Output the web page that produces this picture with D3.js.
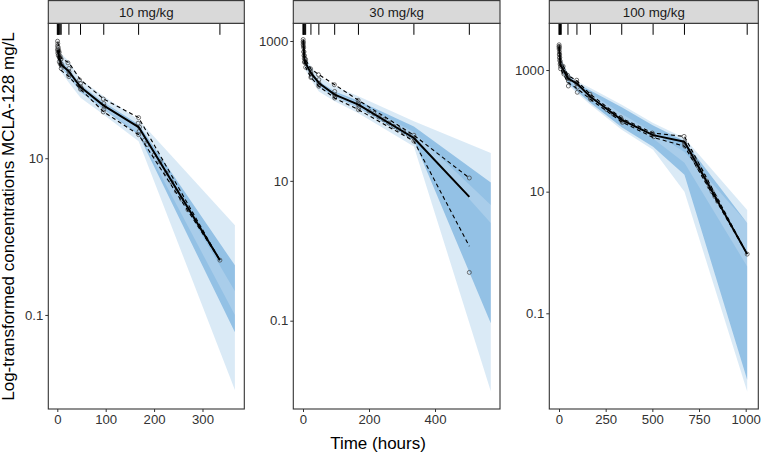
<!DOCTYPE html>
<html><head><meta charset="utf-8">
<script src="https://cdn.jsdelivr.net/npm/d3@7"></script>
<style>
body{margin:0;background:#fff}
svg{display:block}
text{font-family:"Liberation Sans",Arial,Helvetica,sans-serif}
</style>
</head><body>
<svg id="c" width="761" height="454"></svg>
<script>
// ---------------- DATA ----------------
const panelLabels = ["10 mg/kg", "30 mg/kg", "100 mg/kg"];
const xTicks1 = [0, 100, 200, 300];
const xTicks2 = [0, 200, 400];
const xTicks3 = [0, 250, 500, 750, 1000];
const yTicks1 = [0.1, 10];
const yTicks2 = [0.1, 10, 1000];
const yTicks3 = [0.1, 10, 1000];

// bin separators (rug)
const rug1 = [0, 1, 2, 3, 4, 6, 8, 24, 48, 96, 168, 336];
const rug2 = [0, 1, 2, 4, 6, 8, 24, 48, 96, 168, 336, 504];
const rug3 = [0, 2, 4, 8, 12, 48, 96, 168, 336, 504, 672, 1008];

// simulated CI bands: panel 1
const simT1  = [0.5, 3, 8, 24, 48, 96, 168, 367];
const p95Hi1 = [330, 270, 215, 173, 101, 62, 31, 1.4];
const p95Lo1 = [265, 215, 175, 140, 88, 52, 25, 0.2];
const medHi1 = [265, 220, 180, 140, 88, 52, 27, 0.43];
const medLo1 = [215, 175, 145, 110, 70, 42, 20, 0.06];
const p5Hi1  = [220, 180, 150, 112, 72, 43, 21, 0.1];
const p5Lo1  = [180, 150, 125, 92, 59, 36, 16.5, 0.011];
// panel 2
const simT2  = [0.5, 4, 8, 24, 48, 96, 168, 336, 569];
const p95Hi2 = [1100, 750, 600, 435, 313, 225, 162, 71, 25];
const p95Lo2 = [880, 610, 500, 370, 260, 185, 130, 50, 4.5];
const medHi2 = [920, 640, 520, 380, 265, 190, 140, 60, 9.5];
const medLo2 = [760, 530, 440, 320, 220, 158, 110, 38, 0.092];
const p5Hi2  = [780, 540, 450, 330, 225, 160, 112, 42, 2.5];
const p5Lo2  = [637, 450, 380, 280, 190, 137, 93, 31, 0.0098];
// panel 3
const simT3  = [0.5, 4, 10, 48, 96, 168, 336, 504, 672, 1008];
const p95Hi3 = [2600, 2000, 1600, 890, 652, 506, 268, 134, 76, 5.0];
const p95Lo3 = [2250, 1700, 1350, 760, 560, 420, 190, 95, 45, 3.05];
const medHi3 = [2350, 1800, 1450, 820, 600, 460, 245, 122, 68, 3.05];
const medLo3 = [2000, 1400, 1100, 620, 450, 290, 115, 55, 19, 0.0081];
const p5Hi3  = [2100, 1500, 1200, 670, 490, 330, 150, 75, 30, 0.59];
const p5Lo3  = [1900, 1300, 1000, 573, 419, 268, 104, 49, 10, 0.0052];

// observed percentiles
const obsT1    = [1, 4, 8, 24, 48, 96, 168, 336];
const obsMed1  = [240, 195, 157, 128, 81, 47, 25, 0.5];
const obsP95_1 = [305, 240, 190, 165, 100, 57, 33, 0.5];
const obsP5_1  = [200, 165, 132, 110, 76, 39, 20, 0.5];

const obsT2    = [1, 4, 8, 24, 48, 96, 168, 336, 504];
const obsMed2  = [1000, 560, 480, 349, 251, 171, 123, 41, 5.9];
const obsP95_2 = [1050, 650, 540, 400, 330, 237, 142, 45, 11];
const obsP5_2  = [850, 500, 420, 300, 225, 153, 104, 37, 1.16];

const obsT3    = [1, 4, 8, 24, 48, 96, 168, 336, 504, 672, 1008];
const obsMed3  = [2400, 1700, 1200, 1000, 730, 600, 364, 151, 85, 66, 0.94];
const obsP95_3 = [2600, 1900, 1400, 1150, 820, 660, 400, 160, 92, 81, 0.94];
const obsP5_3  = [2200, 1500, 1050, 850, 620, 500, 330, 140, 78, 56, 0.94];

// observed concentrations [time, conc]
const obsPts1 = [[0.5,312],[0.5,270],[0.5,240],[1,290],[1,250],[1,220],[2,260],[2,230],[2,205],[3,240],[3,210],
  [4,225],[4,195],[4,170],[6,200],[6,180],[6,160],[8,185],[8,160],[8,140],[10,150],
  [22,165],[24,140],[24,128],[25,118],[24,110],[46,100],[48,90],[48,82],[50,78],[48,76],
  [95,57],[96,50],[97,46],[96,42],[95,39],[168,33],[167,28],[170,25],[169,22],[168,20],
  [180,17],[186,15],[200,11],[212,9],[225,6.5],[236,5],[246,3.8],[257,3],[270,2.2],[336,0.5]];
const obsPts2 = [[0.5,1050],[0.5,980],[0.5,900],[1,950],[1,850],[2,800],[2,700],[3,700],[3,620],[4,620],[4,560],[4,500],
  [6,560],[6,500],[8,540],[8,480],[8,420],[23,400],[24,360],[24,340],[25,310],[24,300],
  [47,330],[48,280],[48,250],[49,235],[48,225],[95,237],[96,190],[96,170],[97,160],[96,153],
  [167,142],[168,130],[168,123],[169,112],[168,104],[200,100],[215,92],[230,82],[245,75],[260,67],
  [275,60],[290,55],[305,50],[320,45],[336,45],[336,41],[336,37],[504,11],[504,0.49]];
const obsPts3 = [[0.5,2600],[0.5,2450],[0.5,2300],[1,2400],[1,2200],[2,2000],[2,1800],[3,1800],[3,1600],[4,1600],[4,1450],
  [6,1400],[6,1250],[8,1300],[8,1150],[8,1050],[22,1150],[24,1000],[24,920],[26,860],
  [46,820],[48,760],[48,720],[50,660],[50,546],[95,680],[96,620],[96,590],[98,520],[98,430],
  [166,400],[168,370],[168,350],[170,330],[255,225],[290,190],[330,165],[336,152],[336,145],[340,138],
  [500,92],[504,86],[508,80],[670,81],[672,66],[672,60],[674,56],
  [700,46],[715,38],[730,32],[745,26],[760,22],[775,18],[790,15],[805,12],[820,10],[835,8.3],[850,6.9],[1008,0.94]];

// ---------------- DRAW ----------------
const svg = d3.select("#c");
const TOP = 23.3, BOTTOM = 409;
const PI_ALPHA = 0.18, MED_ALPHA = 0.42;

const panels = [
  {label: panelLabels[0], x0: 48.3, x1: 244.3, xDom: [-18.6, 386.4], yDom: [0.0063, 528],
   xTicks: xTicks1, yTicks: yTicks1, rug: rug1,
   simT: simT1, bands: [[p5Lo1, p5Hi1, PI_ALPHA], [p95Lo1, p95Hi1, PI_ALPHA], [medLo1, medHi1, MED_ALPHA]],
   obsT: obsT1, med: obsMed1, p95: obsP95_1, p5: obsP5_1, pts: obsPts1},
  {label: panelLabels[1], x0: 293.3, x1: 500, xDom: [-29.4, 596.9], yDom: [0.00546, 1791],
   xTicks: xTicks2, yTicks: yTicks2, rug: rug2,
   simT: simT2, bands: [[p5Lo2, p5Hi2, PI_ALPHA], [p95Lo2, p95Hi2, PI_ALPHA], [medLo2, medHi2, MED_ALPHA]],
   obsT: obsT2, med: obsMed2, p95: obsP95_2, p5: obsP5_2, pts: obsPts2},
  {label: panelLabels[2], x0: 549.3, x1: 758.3, xDom: [-52, 1067.5], yDom: [0.00267, 5863],
   xTicks: xTicks3, yTicks: yTicks3, rug: rug3,
   simT: simT3, bands: [[p5Lo3, p5Hi3, PI_ALPHA], [p95Lo3, p95Hi3, PI_ALPHA], [medLo3, medHi3, MED_ALPHA]],
   obsT: obsT3, med: obsMed3, p95: obsP95_3, p5: obsP5_3, pts: obsPts3}
];

const defs = svg.append("defs");
const fmt = d3.format("~g");

panels.forEach((p, i) => {
  const x = d3.scaleLinear().domain(p.xDom).range([p.x0, p.x1]);
  const y = d3.scaleLog().domain(p.yDom).range([BOTTOM, TOP]);
  const g = svg.append("g");

  defs.append("clipPath").attr("id", "clip" + i).append("rect")
    .attr("x", p.x0).attr("y", TOP).attr("width", p.x1 - p.x0).attr("height", BOTTOM - TOP);

  g.append("rect").attr("x", p.x0).attr("y", TOP).attr("width", p.x1 - p.x0).attr("height", BOTTOM - TOP)
    .attr("fill", "#fff");

  const pg = g.append("g").attr("clip-path", `url(#clip${i})`);

  const area = d3.area().x(d => x(d.t)).y0(d => y(d.lo)).y1(d => y(d.hi));
  p.bands.forEach(([lo, hi, a]) => {
    pg.append("path")
      .datum(p.simT.map((t, k) => ({t, lo: lo[k], hi: hi[k]})))
      .attr("d", area).attr("fill", "#3388cc").attr("fill-opacity", a);
  });

  pg.selectAll("circle.pt").data(p.pts).join("circle").attr("class", "pt")
    .attr("cx", d => x(d[0])).attr("cy", d => y(d[1])).attr("r", 2)
    .attr("fill", "none").attr("stroke", "#444").attr("stroke-width", 0.75);

  const line = d3.line().x(d => x(d[0])).y(d => y(d[1]));
  [p.p5, p.p95].forEach(arr => {
    pg.append("path").datum(p.obsT.map((t, k) => [t, arr[k]]))
      .attr("d", line).attr("fill", "none").attr("stroke", "#000")
      .attr("stroke-width", 1.1).attr("stroke-dasharray", "4,3");
  });
  pg.append("path").datum(p.obsT.map((t, k) => [t, p.med[k]]))
    .attr("d", line).attr("fill", "none").attr("stroke", "#000").attr("stroke-width", 2)
    .attr("stroke-linejoin", "round");

  // rug (bin separators)
  pg.selectAll("line.rug").data(p.rug).join("line").attr("class", "rug")
    .attr("x1", d => x(d)).attr("x2", d => x(d)).attr("y1", TOP).attr("y2", TOP + 11.5)
    .attr("stroke", "#000").attr("stroke-width", 1);

  // panel border
  g.append("rect").attr("x", p.x0).attr("y", TOP).attr("width", p.x1 - p.x0).attr("height", BOTTOM - TOP)
    .attr("fill", "none").attr("stroke", "#333").attr("stroke-width", 1.1);

  // strip
  g.append("rect").attr("x", p.x0).attr("y", 0.6).attr("width", p.x1 - p.x0).attr("height", TOP - 0.6)
    .attr("fill", "#d9d9d9").attr("stroke", "#333").attr("stroke-width", 1.1);
  g.append("text").attr("x", (p.x0 + p.x1) / 2).attr("y", 17).attr("text-anchor", "middle")
    .attr("font-size", "13.3px").attr("fill", "#1a1a1a").text(p.label);

  // axes
  const ax = d3.axisBottom(x).tickValues(p.xTicks).tickSize(3).tickPadding(3).tickFormat(fmt);
  const gx = g.append("g").attr("transform", `translate(0,${BOTTOM})`).call(ax);
  const ay = d3.axisLeft(y).tickValues(p.yTicks).tickSize(3).tickPadding(2).tickFormat(fmt);
  const gy = g.append("g").attr("transform", `translate(${p.x0},0)`).call(ay);
  [gx, gy].forEach(a => {
    a.select(".domain").remove();
    a.selectAll(".tick line").attr("stroke", "#333").attr("stroke-width", 1);
    a.selectAll(".tick text").attr("font-size", "13.2px").attr("fill", "#333")
      .attr("font-family", '"Liberation Sans",Arial,Helvetica,sans-serif');
  });
});

// axis titles
svg.append("text").attr("x", 378).attr("y", 449).attr("text-anchor", "middle")
  .attr("font-size", "17px").attr("fill", "#000").text("Time (hours)");
svg.append("text").attr("transform", "translate(14,216.5) rotate(-90)").attr("text-anchor", "middle")
  .attr("font-size", "17px").attr("fill", "#000").text("Log-transformed concentrations MCLA-128 mg/L");
</script>
</body></html>
